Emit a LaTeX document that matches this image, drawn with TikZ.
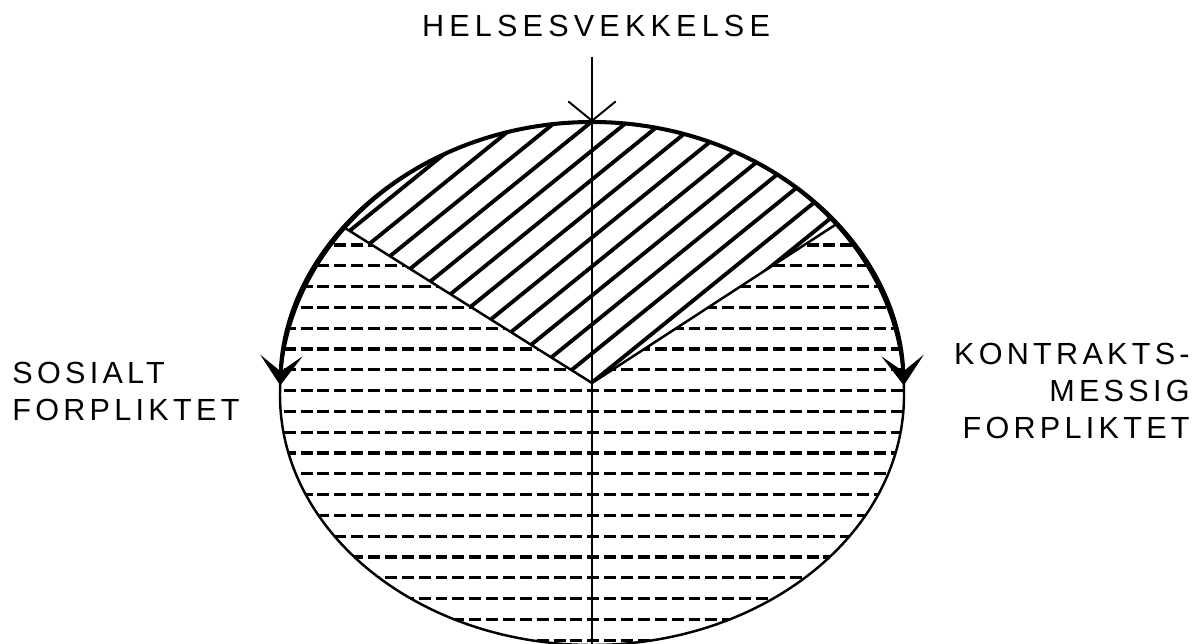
\documentclass[tikz,border=0pt]{standalone}
\usepackage{fontspec}
\newfontfamily\tagfont[LetterSpace=14]{Liberation Sans}
\newfontfamily\headfont[LetterSpace=17]{Liberation Sans}
\usetikzlibrary{arrows.meta}

\begin{document}
\begin{tikzpicture}[x=0.02cm, y=-0.02cm,
  tagtext/.style={inner sep=0pt, font=\tagfont\fontsize{17.4}{21}\selectfont},
  outline/.style={line width=1.4pt},
  flow/.style={line width=2.3pt,
               -{Stealth[length=17pt, width=24pt, inset=9pt]}},
  midline/.style={line width=1.1pt},
  hatch/.style={line width=2.2pt},
  dashrow/.style={line width=1.9pt, dash pattern=on 6.8pt off 2.8pt}
]
  \useasboundingbox (0,0) rectangle (1199,644);
  \clip (0,0) rectangle (1199,644);

  \coordinate (top)      at (592,122);
  \coordinate (apex)     at (592,383);
  \coordinate (lefttop)  at (345,228);
  \coordinate (righttop) at (835,225);
  \coordinate (helsetop) at (592,57);
  \coordinate (bottom)   at (592,650);

  % hatched part above the V
  \begin{scope}
    \clip (280,395) arc[start angle=180, end angle=360, x radius=312, y radius=273]
                    arc[start angle=0, end angle=180, x radius=312, y radius=250] -- cycle;
    \clip (250,168) -- (apex) -- (950,150) -- (950,60) -- (250,60) -- cycle;
    \foreach \j in {-3,...,14}
      \draw[hatch] (250,{659.5-29*\j}) -- (950,{92.5-29*\j});
  \end{scope}

  % dashed rows below the V
  \begin{scope}
    \clip (280,395) arc[start angle=180, end angle=360, x radius=312, y radius=273]
                    arc[start angle=0, end angle=180, x radius=312, y radius=250] -- cycle;
    \clip (250,168) -- (apex) -- (950,150) -- (950,700) -- (250,700) -- cycle;
    \foreach \k in {0,...,19}
      \draw[dashrow] (250,{245+20.8*\k}) -- (950,{245+20.8*\k});
  \end{scope}

  \draw[outline] (280,395) arc[start angle=180, end angle=360, x radius=312, y radius=273]
                           arc[start angle=0, end angle=180, x radius=312, y radius=250] -- cycle;
  \draw[outline] (lefttop) -- (apex) -- (righttop);

  \draw[flow] (top) arc[start angle=270, end angle=182, x radius=312, y radius=273];
  \draw[flow] (top) arc[start angle=270, end angle=358, x radius=312, y radius=273];

  \draw[midline] (helsetop) -- (bottom);
  \draw[midline, -{Straight Barb[length=11pt, width=27pt]}] (helsetop) -- (top);

  \node[tagtext, font=\headfont\fontsize{17.4}{21}\selectfont, anchor=north]
        (helse) at (596,15) {HELSESVEKKELSE};
  \node[tagtext, anchor=north west, align=left]
        (sosialt) at (12,362) {SOSIALT\\FORPLIKTET};
  \node[tagtext, anchor=north east, align=right]
        (kontrakt) at (1190,343) {KONTRAKTS-\\MESSIG\\FORPLIKTET};
\end{tikzpicture}
\end{document}
